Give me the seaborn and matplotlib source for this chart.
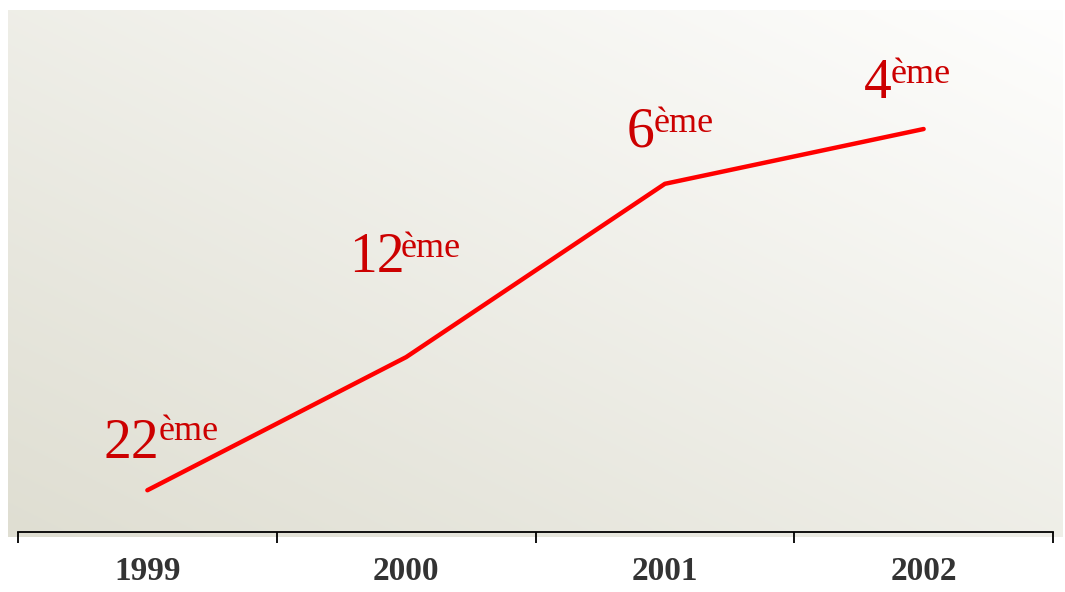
import numpy as np
import pandas as pd
import matplotlib
matplotlib.use("Agg")
import matplotlib.pyplot as plt
import seaborn as sns

# Data
years = ["1999", "2000", "2001", "2002"]
ranks = ["22", "12", "6", "4"]
# height of the line (arbitrary 0-100 scale)
score = [8.0, 33.5, 66.7, 77.2]

df = pd.DataFrame({"year": years, "pos": range(len(years)), "score": score})

sns.set_theme(style="white")
plt.rcParams["font.family"] = ["Liberation Serif", "DejaVu Serif"]

fig = plt.figure(figsize=(10.65, 5.92), dpi=100)
W, H = 1065, 592

# gradient background panel (dark bottom-left -> white top-right)
bg = fig.add_axes([8 / W, (H - 537) / H, (1063 - 8) / W, (537 - 10) / H])
bg.set_axis_off()
nx, ny = 400, 220
xx, yy = np.meshgrid(np.linspace(0, 1, nx), np.linspace(0, 1, ny))
t = 0.5 * (xx + yy)
c0 = np.array([0xdf, 0xde, 0xd2]) / 255
c1 = np.array([0xfe, 0xfe, 0xfd]) / 255
img = c0 + (c1 - c0) * t[..., None]
bg.imshow(img, origin="lower", aspect="auto", extent=[0, 1, 0, 1])

# main axes (transparent) on top
ax = fig.add_axes([18 / W, (H - 532) / H, (1053 - 18) / W, (532 - 10) / H])
ax.patch.set_alpha(0)
sns.lineplot(data=df, x="pos", y="score", color="#ff0000", linewidth=3.2,
             ax=ax, solid_capstyle="round")
ax.set_xlim(-0.5, 3.5)
ax.set_ylim(0, 100)
ax.set_xlabel("")
ax.set_ylabel("")
ax.set_yticks([])
for s in ["top", "right", "left"]:
    ax.spines[s].set_visible(False)
ax.spines["bottom"].set_color("black")
ax.spines["bottom"].set_linewidth(1.3)

# ticks at category boundaries, labels at centers
ax.set_xticks(np.arange(-0.5, 4, 1))
ax.set_xticklabels([])
ax.tick_params(axis="x", which="major", direction="out", length=8, width=1.3,
               color="black", bottom=True)
ax.set_xticks(df["pos"], minor=True)
ax.set_xticklabels(years, minor=True, fontsize=24, fontweight="bold",
                   color="#333333")
ax.tick_params(axis="x", which="minor", length=0, pad=17)

# rank labels with superscript
num_off = [(-44, 32), (-57, 85), (-38, 37), (-60, 31)]
sup_off = [(11, 50), (-5, 100), (-11, 52), (-33, 46)]
for i, r in enumerate(ranks):
    ax.annotate(r, (df["pos"][i], df["score"][i]), xytext=num_off[i],
                textcoords="offset pixels", ha="left", va="baseline",
                fontsize=40, color="#cc0000")
    ax.annotate("ème", (df["pos"][i], df["score"][i]), xytext=sup_off[i],
                textcoords="offset pixels", ha="left", va="baseline",
                fontsize=26, color="#cc0000")

fig.savefig("out.png", dpi=100)
